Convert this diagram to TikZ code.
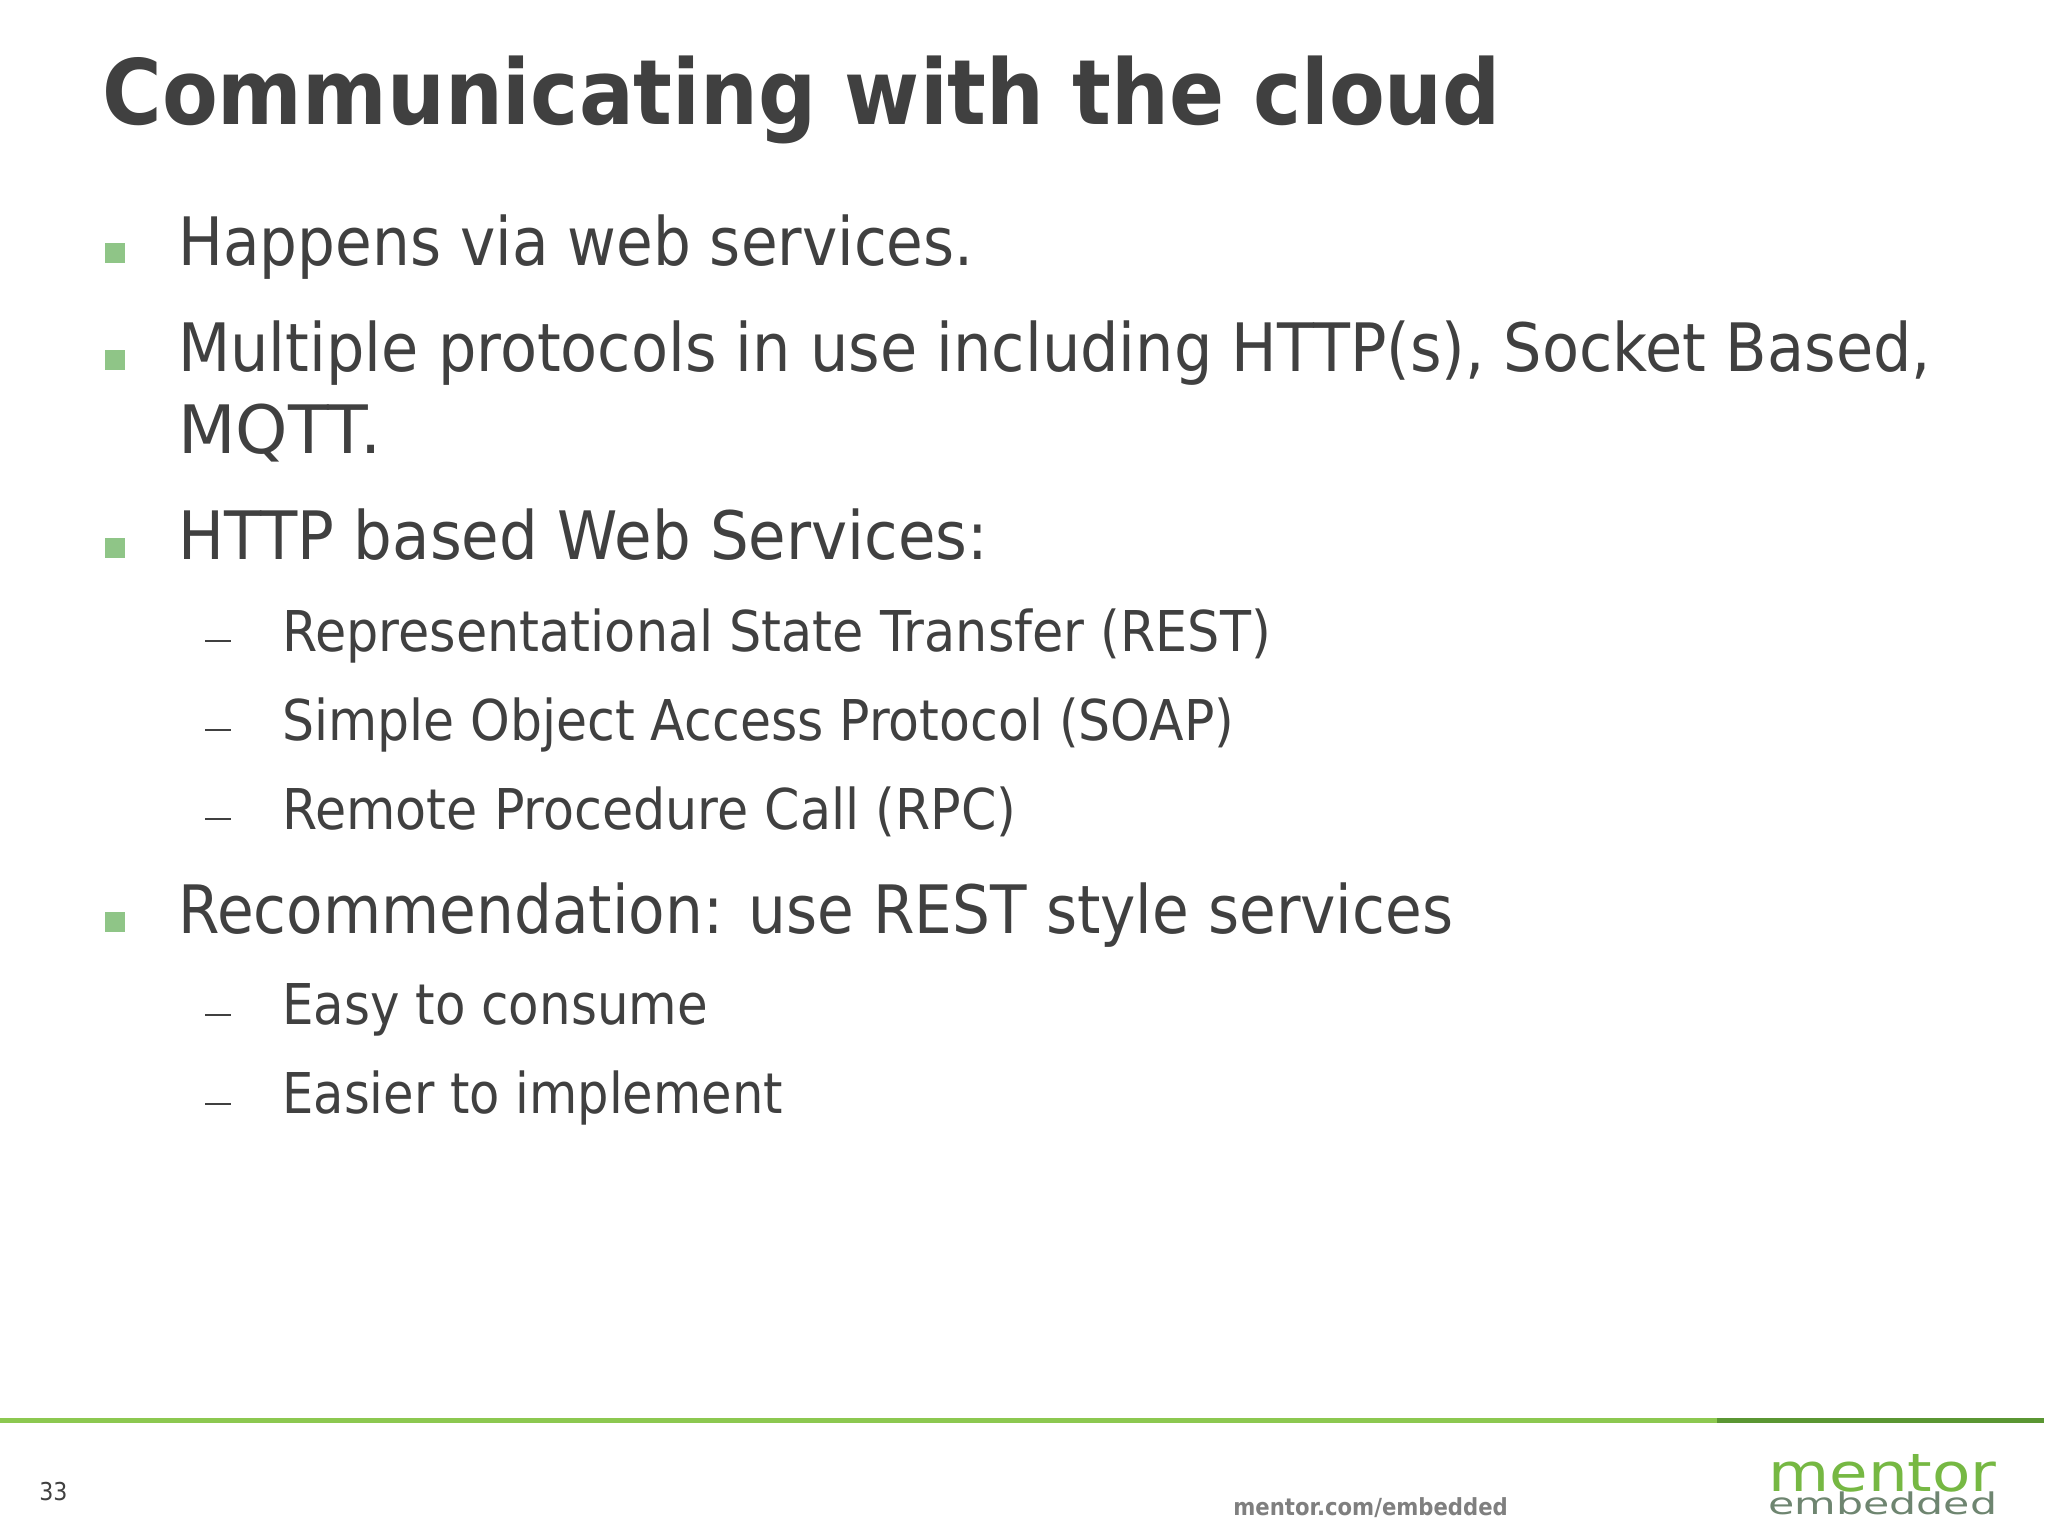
\documentclass[tikz,border=0pt]{standalone}
\usepackage{fontspec}
\setmainfont{DejaVu Sans}[FakeStretch=0.9]
\newfontfamily\logofont{DejaVu Sans}[FakeStretch=1.19]
\newfontfamily\logosmallfont{DejaVu Sans}[FakeStretch=1.43]
\usepackage{tikz}

\definecolor{slidetext}{HTML}{404040}
\definecolor{sitegray}{HTML}{7F7F7F}
\definecolor{bulletgreen}{HTML}{8FC587}
\definecolor{rulelight}{HTML}{8CC850}
\definecolor{ruledark}{HTML}{5A9632}
\definecolor{logogreen}{HTML}{76B843}
\definecolor{logogray}{HTML}{6E8570}

\tikzset{
	item/.style={anchor=base west,inner sep=0pt,text=slidetext,font=\fontsize{38}{38}\selectfont},
	subitem/.style={anchor=base west,inner sep=0pt,text=slidetext,font=\fontsize{32}{32}\selectfont},
	bullet/.style={fill=bulletgreen,draw=none,minimum size=0.4cm,inner sep=0pt},
	dashmark/.style={fill=slidetext,draw=none,minimum width=0.52cm,minimum height=0.04cm,inner sep=0pt}
}

\begin{document}
\begin{tikzpicture}[x=0.02cm,y=-0.02cm]
	\useasboundingbox (0,0) rectangle (2048,1536);

	\node[anchor=base west,inner sep=0pt,text=slidetext,font=\fontsize{51.4}{51.4}\selectfont\bfseries] (title) at (102,124) {Communicating with the cloud};

	% first level
	\foreach \ypos/\name in {253/one,360/two,548/three,922/four}
		\node[bullet] (bullet\name) at (115,\ypos) {};
	\node[item] (happens) at (178,265) {\scalebox{0.993}[1]{Happens via web services.}};
	\node[item] (multiple) at (178,371) {\scalebox{1.0075}[1]{Multiple protocols in use including HTTP(s), Socket Based,}};
	\node[item] (mqtt) at (178,453) {\scalebox{1.109}[1]{MQTT.}};
	\node[item] (http) at (178,559) {\scalebox{1.016}[1]{HTTP based Web Services:}};
	\node[item] (recommend) at (178,933) {\scalebox{0.994}[1]{Recommendation: use REST style services}};

	% second level
	\foreach \ypos/\name in {641/rest,730/soap,819/rpc,1015/easy,1104/easier}
		\node[dashmark] (dash\name) at (218,\ypos) {};
	\node[subitem] (rest) at (282,651) {\scalebox{1.004}[1]{Representational State Transfer (REST)}};
	\node[subitem] (soap) at (282,740) {\scalebox{0.997}[1]{Simple Object Access Protocol (SOAP)}};
	\node[subitem] (rpc) at (282,829) {\scalebox{1.002}[1]{Remote Procedure Call (RPC)}};
	\node[subitem] (easy) at (282,1024) {\scalebox{0.985}[1]{Easy to consume}};
	\node[subitem] (easier) at (282,1113) {\scalebox{0.979}[1]{Easier to implement}};

	% footer
	\fill[rulelight] (0,1417.5) rectangle (1717,1422.5);
	\fill[ruledark] (1717,1417.5) rectangle (2044,1422.5);
	\node[anchor=base west,inner sep=0pt,text=slidetext,font=\fontsize{14}{14}\selectfont] (pagenum) at (39,1500) {33};
	\node[anchor=base west,inner sep=0pt,text=sitegray,font=\fontsize{13.4}{13.4}\selectfont\bfseries] (site) at (1233,1515) {mentor.com/embedded};
	\node[anchor=base west,inner sep=0pt,text=logogreen,font=\logofont\fontsize{30}{30}\selectfont] (mentor) at (1768,1491) {mentor};
	\node[anchor=base west,inner sep=0pt,text=logogray,font=\logosmallfont\fontsize{17}{17}\selectfont] (embedded) at (1768,1514) {embedded};
\end{tikzpicture}
\end{document}
